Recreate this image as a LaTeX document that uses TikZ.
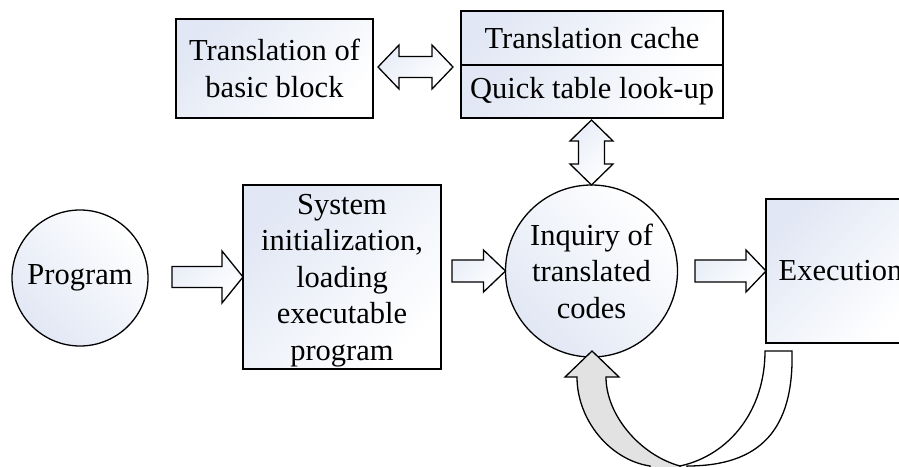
\documentclass[tikz,border=0pt]{standalone}
\usepackage{fontspec}
\setmainfont{Liberation Serif}
\definecolor{gradblue}{RGB}{225,231,244}
\definecolor{arrowblue}{RGB}{232,237,247}
\definecolor{loopgray}{RGB}{226,226,226}
\newcommand\blkR[5]{\draw[blkarrow, shift={#1}] (0,0) -- (-#5,-#4) -- (-#5,-#3) -- (-#2,-#3) -- (-#2,#3) -- (-#5,#3) -- (-#5,#4) -- cycle;}
\begin{document}
\begin{tikzpicture}[x=1pt,y=-1pt,
  every node/.style={inner sep=0pt, outer sep=0pt},
  txt/.style={font=\fontsize{30.5}{36.5}\selectfont, align=center},
  boxshape/.style={draw, line width=1.3pt, top color=gradblue, middle color=white, bottom color=white, shading angle=45, txt},
  circshape/.style={circle, draw, line width=1.3pt, top color=gradblue, middle color=white, bottom color=white, shading angle=135, txt},
  blkarrow/.style={draw, line width=1.3pt, line join=miter, top color=arrowblue, middle color=white, bottom color=white, shading angle=45},
  loopband/.style={draw, line width=1.3pt, line join=miter}
]
\useasboundingbox (0,0) rectangle (899,466);
\clip (0,0) rectangle (899,466);

% nodes
\node[boxshape, minimum width=197, minimum height=99] (trans) at (274.5,68.5) {Translation of\\basic block};
\node[boxshape, minimum width=262, minimum height=54] (cacheA) at (592,38) {Translation cache};
\node[boxshape, minimum width=262, minimum height=53] (cacheB) at (592,91.5) {Quick table look-up};
\node[circshape, minimum size=136] (prog) at (80,278) {Program};
\node[boxshape, minimum width=198, minimum height=184] (sys) at (342,277) {};
\node[txt] (systext) at ([yshift=-3.5pt]sys.center) {System\\initialization,\\loading\\executable\\program};
\node[circshape, minimum size=172] (inq) at (591.5,271) {Inquiry of\\translated\\codes};
\node[boxshape, minimum width=149, minimum height=144] (exec) at (840.5,271) {Execution};

% block arrows
\blkR{(sys.west)}{71}{10.5}{26}{21}
\blkR{(inq.west)}{53.5}{11}{21}{22}
\blkR{(exec.west)}{71}{11}{21}{20}

% horizontal double arrow between translation box and cache
\draw[blkarrow, shift={(trans.east)}] (5,-1.5) -- (26,-23.5) -- (26,-12) -- (59,-12) -- (59,-23.5) -- (80,-1.5) -- (59,20.5) -- (59,9) -- (26,9) -- (26,20.5) -- cycle;

% vertical double arrow between cache and inquiry
\draw[blkarrow, shift={(inq.north)}] (0,0) -- (-21.5,-21) -- (-13,-21) -- (-13,-44) -- (-21.5,-44) -- (0,-65) -- (21.5,-44) -- (13,-44) -- (13,-21) -- (21.5,-21) -- cycle;

% loop arrow from execution back to inquiry
\draw[loopband, fill=white] (765,351) -- (792,351) .. controls (794,430) and (760,466) .. (687,466) -- (687,474) -- (680,474) -- (680,466) .. controls (730,455) and (765,410) .. (765,351) -- cycle;
\draw[loopband, fill=loopgray] (592,351) -- (619,377) -- (606,377) .. controls (606,415) and (640,455) .. (680,466) -- (680,474) -- (650,474) -- (650,466) .. controls (610,460) and (577,420) .. (577,377) -- (565,377) -- cycle;
\end{tikzpicture}
\end{document}
